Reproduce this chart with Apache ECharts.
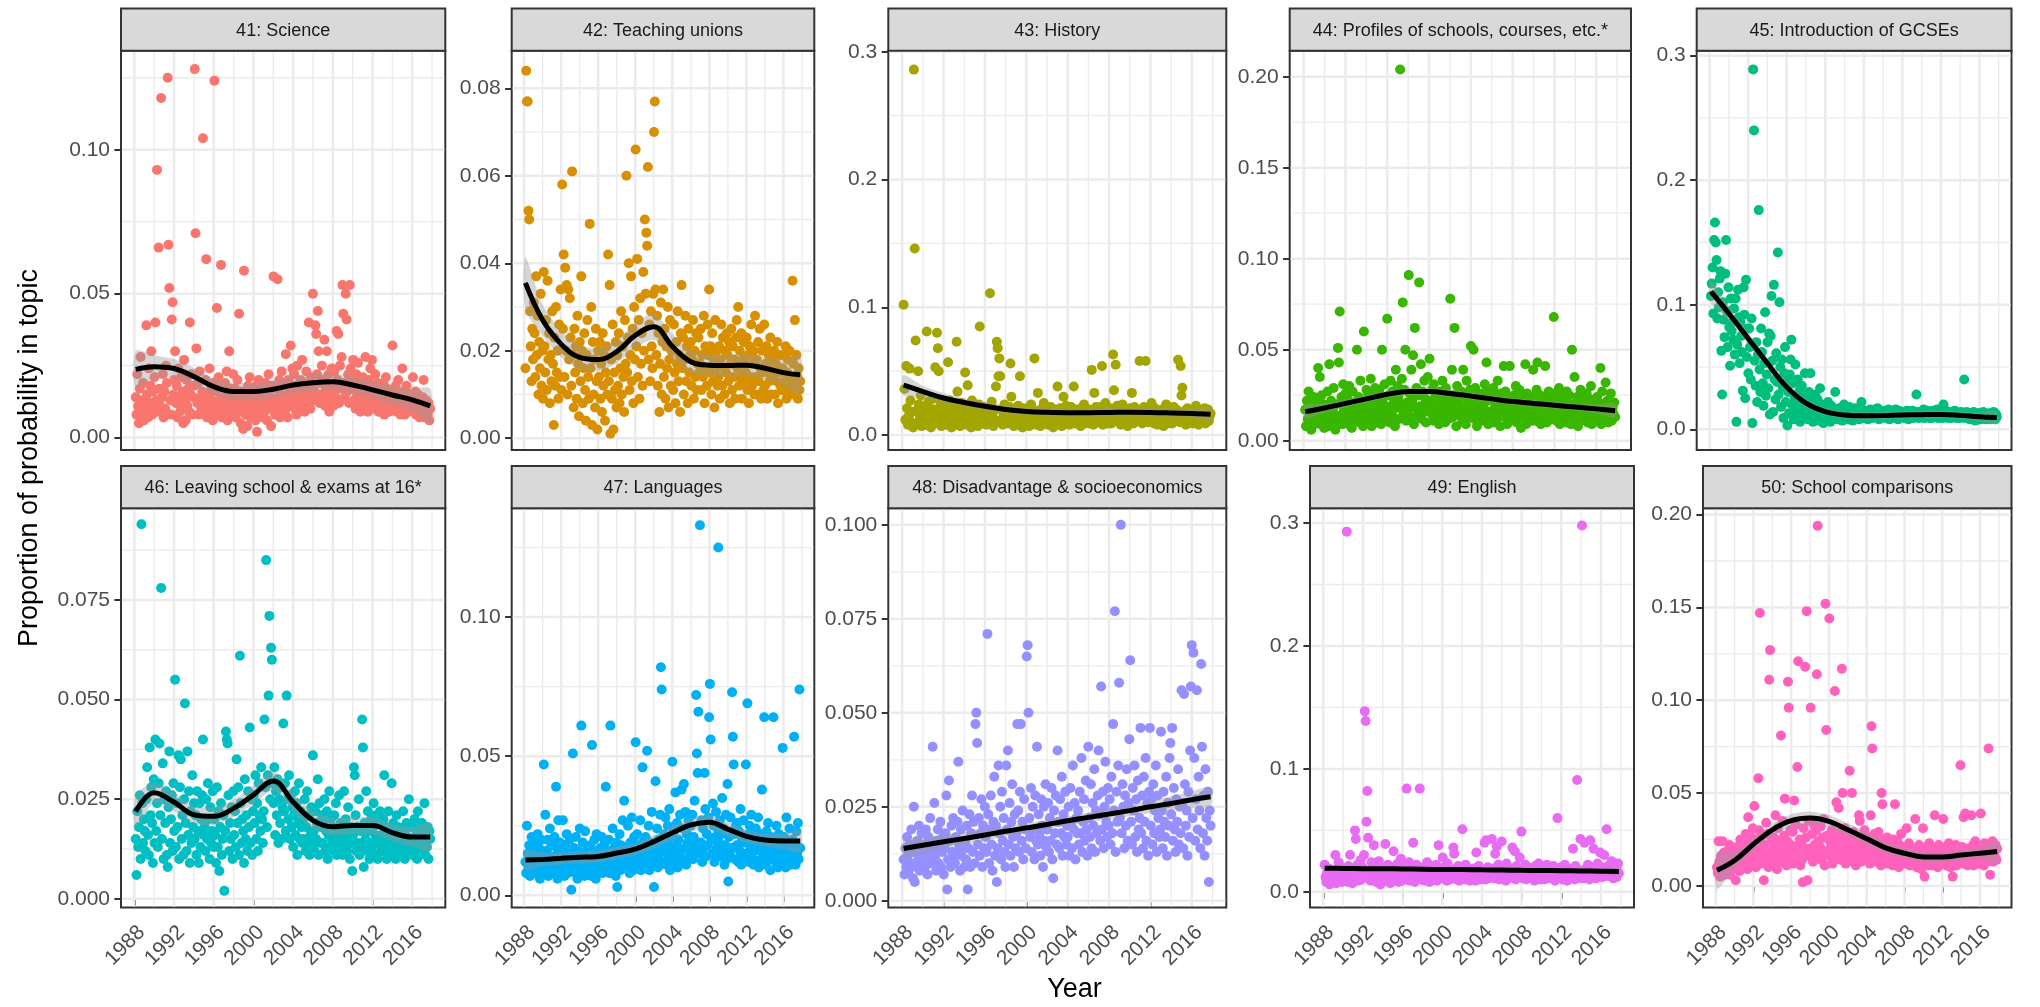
<!DOCTYPE html>
<html><head><meta charset="utf-8">
<script src="https://cdn.jsdelivr.net/npm/echarts@6/dist/echarts.min.js"></script>
<style>html,body{margin:0;padding:0;background:#fff}#c{width:2040px;height:1007px}</style>
</head><body><div id="c"></div>
<script>
// ---------------- DATA (monthly values, in units of 0.001 = per mille) ----------------
const MONTH_START = 1988.14, MONTH_END = 2017.81;
const TOPICS = ['41: Science','42: Teaching unions','43: History','44: Profiles of schools, courses, etc.*','45: Introduction of GCSEs',
  '46: Leaving school & exams at 16*','47: Languages','48: Disadvantage & socioeconomics','49: English','50: School comparisons'];
const COLORS = ['#F8766D','#D89000','#A3A500','#39B600','#00BF7D','#00BFC4','#00B0F6','#9590FF','#E76BF3','#FF62BC'];

const science = [
14,8,22,11,5,17,28,9,13,19,6,12, 10,39,15,7,24,12,18,30,8,16,11,21, 40,13,93,9,66,17,11,118,14,22,7,16,
10,25,19,125,67,52,13,8,41,47,15,20, 30,12,18,7,24,14,9,21,11,16,5,27, 13,6,20,11,17,9,40,15,22,8,14,18,
128,71,31,12,19,8,23,14,10,16,104,9, 12,20,62,7,15,11,24,9,17,13,6,19, 124,10,16,45,8,21,13,18,60,7,14,11,
9,19,12,23,6,15,30,10,17,8,13,22, 11,17,7,14,20,9,43,13,5,16,10,3, 58,12,8,15,4,18,11,21,7,13,16,9,
10,14,6,18,2,12,20,8,15,11,17,7, 13,9,19,11,6,16,22,10,14,4,18,12, 56,12,8,17,11,55,14,20,7,15,23,10,
12,18,9,29,14,7,20,11,16,32,13,24, 15,22,10,18,8,25,13,17,11,20,14,27, 12,19,9,16,23,11,14,40,18,10,21,15,
50,17,13,39,36,22,44,30,12,19,15,25, 14,20,34,11,17,30,13,22,9,18,15,24, 16,11,23,18,14,37,20,36,12,25,17,28,
53,43,19,14,50,41,16,22,12,53,24,18, 20,27,13,17,10,22,15,26,12,19,9,16, 14,21,11,18,28,13,16,9,20,12,24,15,
27,13,18,10,22,15,12,19,9,17,14,11, 16,12,19,8,14,21,11,17,13,9,15,12, 12,32,16,10,14,18,9,13,20,11,15,8,
13,24,10,16,8,12,18,11,14,9,15,10, 11,14,21,9,13,16,8,12,15,10,7,13, 9,12,14,20,7,11,13,10,8,12,6,10];

const teachingUnions = [
16,84,77,77,52,50,29,21,13,25,18,31, 24,14,37,19,28,10,22,16,33,12,20,9, 38,21,15,27,11,36,18,24,8,19,13,29,
17,3,23,12,30,15,20,9,26,14,34,11, 58,25,42,14,39,20,35,10,34,18,32,23, 12,61,19,7,25,15,21,9,28,17,5,22,
13,37,20,8,16,24,11,4,19,27,14,9, 49,16,30,3,22,10,18,7,25,13,2,20, 14,22,9,17,6,24,12,19,4,15,21,10,
42,13,35,1,18,9,26,2,15,11,22,7, 19,12,24,8,16,29,10,21,14,6,27,17, 60,15,23,40,11,19,37,13,25,8,30,18,
66,21,41,14,27,9,32,17,24,12,38,20, 50,33,47,44,62,18,26,13,29,21,16,33, 70,77,34,19,28,12,24,6,17,31,10,22,
34,14,25,9,21,16,30,7,18,27,12,20, 20,11,26,15,8,22,17,29,13,19,6,24, 35,16,23,10,18,28,13,21,8,25,15,19,
22,12,18,27,9,20,14,24,11,17,23,15, 17,25,11,19,14,28,8,21,16,12,26,19, 34,15,21,10,24,13,18,7,27,16,20,12,
14,21,9,18,26,12,23,16,10,20,15,24, 19,13,22,8,17,25,11,21,14,18,9,23, 27,16,30,12,20,14,24,9,18,22,13,17,
15,23,11,19,8,21,14,26,12,17,20,10, 28,14,18,10,22,13,25,16,9,20,15,11, 26,12,17,21,9,15,19,13,23,10,16,18,
14,20,10,17,13,22,8,16,19,12,15,11, 16,11,19,13,21,9,15,18,12,20,14,10, 13,36,17,10,27,12,19,14,9,16,11,13];

const history = [
102,36,12,54,21,8,15,52,27,10,18,6, 286,146,74,19,9,50,24,13,31,7,16,11, 14,22,8,81,17,26,11,19,6,28,13,20,
9,53,18,80,68,50,12,25,7,16,21,10, 15,24,8,19,57,11,27,14,6,20,12,17, 10,22,73,34,13,18,7,25,15,9,21,12,
49,16,8,39,23,12,19,6,27,14,10,18, 11,20,14,7,24,85,13,17,9,22,12,16, 15,8,21,12,18,111,10,26,14,7,19,11,
38,73,68,46,60,46,12,20,8,16,24,10, 13,19,9,15,22,56,30,11,17,7,14,20, 10,16,23,8,46,12,18,6,21,14,9,15,
17,11,20,7,14,24,9,16,12,60,19,8, 13,33,10,18,7,15,21,11,25,9,16,12, 14,8,19,12,22,10,17,6,15,20,11,13,
38,16,9,21,13,7,18,30,11,15,23,10, 12,19,8,16,22,11,14,38,9,17,13,20, 15,10,18,7,21,13,16,24,9,12,19,11,
14,20,9,17,51,12,8,33,15,22,11,18, 10,16,22,13,54,8,19,11,25,14,17,9, 16,12,21,9,18,63,35,14,55,11,23,13,
11,18,8,15,24,12,20,10,16,13,7,19, 14,21,10,33,17,9,22,12,15,19,11,16, 58,13,19,9,16,22,11,58,14,20,10,17,
12,18,25,11,15,9,21,13,17,8,19,14, 16,10,20,13,7,18,12,24,15,9,22,11, 13,19,9,16,22,11,14,20,12,59,17,10,
54,31,37,15,11,19,8,16,21,13,10,18, 12,17,9,20,14,11,23,13,16,8,19,15, 14,10,18,12,21,9,16,13,20,11,15,17];

const profiles = [
17,8,22,12,27,10,15,6,19,13,24,9, 14,21,11,40,18,35,9,25,13,20,7,16, 12,19,27,8,42,15,22,10,17,29,13,6,
20,11,51,43,71,14,24,9,31,17,12,26, 16,23,9,30,13,19,7,27,15,21,11,18, 50,14,24,10,33,17,22,8,60,19,13,28,
15,26,11,20,34,8,18,24,13,29,16,10, 21,12,28,17,9,50,23,14,31,19,11,67, 16,25,10,33,19,27,13,22,8,39,18,30,
24,12,204,20,34,76,15,28,50,11,21,17, 91,26,13,39,22,47,9,62,18,29,14,25, 87,19,42,12,27,16,33,23,10,21,35,17,
45,22,15,28,11,31,19,26,13,24,18,9, 20,27,14,33,17,23,10,29,15,21,12,25, 78,18,39,13,25,62,21,8,30,16,23,14,
19,27,11,39,15,24,9,33,18,22,13,28, 52,16,23,50,12,29,19,8,25,14,21,17, 18,26,11,20,31,15,43,22,9,27,16,13,
23,14,29,10,19,25,12,33,17,21,8,26, 15,22,41,13,27,18,9,24,16,41,11,20, 19,12,25,16,30,10,22,14,28,18,7,23,
13,21,17,42,9,26,15,20,12,24,18,11, 39,16,23,11,28,43,14,19,25,9,21,17, 20,13,41,24,10,18,27,15,22,12,19,26,
68,17,23,11,20,14,29,9,24,16,21,13, 15,22,10,27,18,12,25,16,9,50,20,14, 35,19,13,24,8,21,16,28,11,18,23,15,
12,20,26,10,17,23,14,30,9,19,15,22, 18,13,24,11,21,16,40,9,27,14,20,12, 32,17,22,10,19,14,26,11,18,15,21,13];

const gcses = [
107,117,130,93,152,166,150,136,89,110,98,121, 127,63,28,102,88,74,125,152,95,66,114,82, 51,105,79,86,72,97,60,105,6,68,112,90,
53,86,75,62,31,114,92,25,120,58,81,45, 81,66,40,89,5,289,240,55,35,70,22,60, 176,48,30,81,62,37,19,53,94,27,44,70,
33,77,12,75,107,55,14,116,40,24,61,38, 142,28,102,50,18,56,34,9,45,66,22,38, 3,30,13,44,56,72,20,37,8,26,52,15,
24,40,11,31,6,19,35,14,27,9,45,17, 13,22,8,30,16,45,10,25,6,19,12,28, 18,7,24,11,15,33,9,20,13,5,17,10,
12,16,8,22,10,14,6,19,11,15,9,13, 30,10,14,8,12,17,11,9,15,7,13,20, 11,14,9,16,12,8,18,10,13,15,7,12,
10,13,17,9,12,15,8,11,14,22,10,13, 12,9,15,11,14,8,13,10,16,12,9,14, 11,14,10,13,9,17,12,8,15,11,13,10,
13,10,15,12,9,14,11,16,8,13,12,10, 9,14,11,13,16,10,12,8,15,11,14,12, 12,10,14,9,13,11,15,12,8,14,10,13,
11,15,9,13,12,10,28,14,11,9,13,12, 14,10,12,16,9,13,11,15,10,12,14,9, 12,9,15,11,13,10,14,12,16,9,11,13,
10,14,12,9,20,13,11,15,10,12,9,14, 13,11,9,14,12,10,15,11,13,9,12,10, 9,12,14,10,13,11,40,9,12,14,10,11,
11,8,13,10,12,9,14,11,7,12,10,13, 10,12,8,13,9,11,14,10,12,8,11,9, 9,11,13,8,12,10,9,14,11,8,12,10];

const leavingSchool = [
15,6,22,13,18,26,10,94,24,14,20,17, 12,25,33,16,11,38,21,28,19,9,30,14, 40,17,24,13,29,39,21,78,15,34,10,25,
19,27,11,8,23,37,14,20,26,12,29,17, 55,13,24,18,36,10,28,35,15,21,11,25, 49,19,12,37,16,27,9,22,14,31,18,24,
15,21,11,27,17,9,24,13,20,26,40,16, 18,12,25,15,29,20,10,23,14,17,27,13, 20,16,9,28,13,22,7,18,24,11,15,21,
2,17,42,40,39,26,12,19,15,23,10,27, 16,22,13,35,19,28,11,61,24,14,20,17, 9,30,15,21,12,27,18,43,14,25,11,22,
26,19,31,15,24,12,29,21,17,33,20,14, 22,45,28,85,18,31,51,71,25,63,60,29, 24,33,16,27,21,30,14,25,19,28,15,23,
44,22,29,17,51,25,20,31,15,26,18,23, 13,21,27,16,24,11,19,29,15,22,18,14, 20,15,25,12,18,27,14,21,11,16,23,13,
36,17,12,22,15,19,30,11,24,14,18,21, 14,19,25,12,17,22,10,16,27,13,20,15, 18,12,21,15,24,11,17,14,26,13,19,16,
11,17,27,13,20,15,12,23,16,10,18,14, 7,16,33,31,21,12,18,14,25,11,17,13, 45,38,8,19,15,27,12,22,17,10,14,20,
13,18,24,11,16,21,14,10,19,15,22,12, 16,12,20,31,14,18,10,15,22,13,17,11, 29,14,19,12,16,10,21,13,18,15,11,17,
12,17,22,14,10,16,19,11,15,25,13,18, 15,11,18,13,20,12,16,10,22,14,17,12, 14,19,12,16,24,11,15,13,18,10,17,15];

const languages = [
12,8,25,15,10,18,7,14,21,9,13,16, 11,19,8,14,22,10,17,6,13,20,9,15, 47,12,29,9,16,20,7,13,24,11,18,10,
14,8,21,11,39,17,6,27,12,19,9,15, 10,27,13,7,18,11,22,8,15,12,20,9, 2,14,51,10,17,8,21,13,6,16,11,24,
15,61,9,19,12,7,23,14,10,17,8,13, 11,18,7,54,13,9,20,15,6,22,12,16, 14,9,17,12,21,8,15,11,19,39,10,16,
13,20,8,61,15,11,24,9,17,14,7,19, 3,16,12,22,9,18,13,27,10,34,15,11, 17,11,25,14,8,19,12,28,16,9,21,13,
55,15,22,10,18,13,27,9,16,46,12,20, 14,21,11,52,17,25,9,19,13,30,16,12, 3,18,41,13,24,10,20,15,29,82,74,17,
12,22,16,28,11,19,25,14,31,9,17,21, 48,15,23,12,37,18,26,10,20,14,29,16, 38,13,24,40,17,30,11,22,19,27,14,20,
25,16,29,13,21,34,18,72,51,44,66,15, 133,19,27,12,24,17,44,31,14,22,18,28, 64,76,56,20,15,33,25,12,21,30,17,24,
125,19,27,14,22,35,16,24,11,18,29,13, 40,5,21,15,28,17,73,57,47,22,13,25, 18,26,12,23,16,31,11,20,14,27,19,13,
47,15,69,22,12,25,17,29,14,19,11,21, 16,24,12,19,28,10,17,22,13,38,15,20, 64,18,11,23,15,26,13,19,9,21,14,17,
64,14,20,12,25,16,10,22,15,18,11,19, 53,13,21,17,10,28,15,19,12,24,16,11, 14,20,12,57,18,11,23,15,26,13,74,17];

const disadvantage = [
11,7,14,9,17,12,8,15,10,19,13,6, 25,5,13,9,16,11,20,8,14,18,10,12, 15,9,19,12,7,17,13,22,10,14,41,11,
26,12,8,16,19,10,14,21,9,13,17,7, 14,18,28,3,11,32,16,9,20,13,22,12, 10,17,13,21,37,15,8,19,12,24,14,9,
16,11,20,3,14,23,9,18,28,13,21,10, 47,50,42,15,22,12,18,27,9,20,14,25, 17,13,71,23,10,19,28,15,8,21,33,12,
20,5,14,36,18,25,11,29,16,22,13,9, 36,19,40,15,26,12,21,31,17,9,23,14, 18,47,24,13,29,47,16,21,11,27,19,14,
65,68,50,22,17,30,13,25,19,11,28,16, 41,15,23,18,12,27,20,9,25,16,31,14, 19,26,13,22,16,30,11,6,24,18,28,15,
40,21,14,27,18,33,12,23,17,29,15,20, 17,25,12,30,20,14,36,19,26,11,22,18, 24,15,29,18,38,13,21,27,16,32,19,12,
41,22,17,31,14,26,20,35,13,24,18,28, 40,23,16,57,19,29,14,25,37,21,17,30, 20,27,15,33,18,47,24,77,13,29,21,36,
58,22,100,18,31,25,14,28,20,35,16,26, 43,64,21,15,30,24,36,17,27,13,32,19, 22,46,18,28,14,33,21,38,16,26,12,29,
46,20,27,15,31,18,24,36,13,28,22,17, 19,45,24,14,29,21,17,33,12,26,20,38, 42,23,46,16,30,19,13,27,21,35,15,25,
18,56,26,14,55,31,20,24,12,29,17,40, 57,68,22,66,38,16,27,56,19,33,24,14, 63,41,18,28,12,35,22,16,29,5,24,20];

const english = [
22,12,8,16,10,19,6,14,11,17,9,13, 15,30,7,18,11,24,9,13,20,8,16,12, 10,17,13,293,8,21,14,30,11,19,7,15,
16,50,43,12,22,9,18,14,26,10,20,13, 30,147,139,57,82,44,11,17,9,24,14,19, 38,13,21,8,16,11,25,14,6,19,10,17,
12,18,39,9,15,22,11,17,7,14,20,10, 33,14,10,19,13,23,8,16,12,27,9,15, 18,11,15,21,84,10,14,24,9,17,12,20,
40,13,8,18,22,11,16,14,84,10,19,12, 15,20,9,13,17,24,11,16,8,21,14,10, 12,18,14,10,22,9,16,38,13,19,11,15,
28,14,20,11,17,9,23,13,15,10,18,12, 16,36,31,12,19,10,14,21,9,17,13,11, 51,13,18,10,22,15,11,19,14,9,16,12,
15,11,19,14,9,32,17,12,21,10,16,13, 18,12,16,40,10,42,14,20,11,17,13,15, 43,14,19,11,31,16,37,12,22,10,18,13,
41,17,12,20,14,9,23,16,11,19,13,15, 12,36,18,14,33,10,21,16,12,19,28,13, 49,15,11,18,13,22,10,16,20,12,17,14,
14,19,12,16,9,21,13,18,11,23,15,10, 17,12,20,14,10,18,13,22,11,16,19,12, 13,18,11,21,15,9,17,14,60,12,19,16,
20,14,10,17,13,22,12,16,9,18,14,11, 15,19,12,35,16,10,21,14,91,18,11,17, 43,13,298,16,11,40,14,19,12,22,15,10,
42,17,12,20,35,14,18,11,16,23,13,19, 32,15,20,12,18,30,14,17,51,13,21,16, 18,13,25,16,11,21,14,19,12,17,23,15];

const schoolComparisons = [
10,7,24,13,5,16,9,24,12,18,6,14, 15,8,19,11,22,6,13,17,9,20,12,16, 3,14,21,10,17,8,25,13,19,11,23,15,
12,28,18,9,37,15,22,11,26,14,31,17, 43,19,10,25,14,58,30,147,20,12,27,16, 3,22,13,34,17,28,10,111,127,15,24,19,
18,26,12,38,21,9,31,16,24,13,81,20, 35,14,27,47,19,11,24,110,96,16,30,22, 17,29,12,46,21,33,15,64,121,19,25,11,
23,14,2,31,18,118,26,148,3,20,35,16, 96,19,28,13,33,22,17,30,114,194,24,15, 21,32,14,26,18,36,11,152,84,27,19,25,
144,16,23,30,12,27,18,105,21,45,15,25, 42,20,29,14,117,50,23,17,31,12,26,19, 18,27,62,15,22,50,13,29,19,25,11,21,
16,24,38,35,19,13,27,21,15,30,17,23, 22,14,26,18,12,38,86,74,20,15,28,17, 13,24,19,29,16,22,11,50,44,18,25,14,
20,15,26,12,18,23,14,21,17,11,25,16, 44,13,19,24,15,10,22,17,28,12,18,14, 16,21,12,31,17,14,23,11,19,15,20,13,
12,18,36,14,10,20,15,22,13,17,9,19, 31,14,5,18,12,21,16,11,23,15,19,13, 11,17,14,38,20,12,16,10,22,14,18,15,
16,12,36,19,14,21,11,17,13,23,15,10, 14,20,5,16,12,18,22,11,15,19,13,17, 65,15,21,12,37,17,39,14,20,11,18,16,
13,19,38,15,22,11,17,24,14,20,12,18, 17,12,39,14,20,16,11,23,15,19,13,21, 74,18,6,21,15,24,13,19,16,22,14,20];

// smoothed trend (per mille) and half-width of its confidence band, read at these years
const TREND_YEARS = [1988.14,1990,1992,1994,1996,1998,2000,2002,2004,2006,2008,2010,2012,2014,2016,2017.81];
const trendScience = [23.7,24.6,24,21.2,17.7,16,16,16.8,18.3,19.1,19.4,18.3,16.6,14.8,13.1,11];
const bandScience  = [6.5,4,3.3,3,3,3,3,3,3,3,3,3,3,3.3,4,6];
const trendUnions  = [35.5,27,21.5,18.5,18,19.8,23.5,25.5,21,17.5,16.7,16.6,16.7,16,15,14.5];
const bandUnions   = [6,3.5,3,2.7,2.7,2.7,2.8,3,2.8,2.6,2.5,2.5,2.5,2.6,3,4.5];
const trendHistory = [39,34,29,25.5,22.5,20,18.5,17.8,17.5,17.5,17.7,17.8,17.7,17.3,16.8,16.2];
const bandHistory  = [8,4.5,3.8,3.5,3.5,3.3,3.2,3.2,3.2,3.2,3.2,3.2,3.2,3.3,3.8,5];
const trendProfiles= [16,18,20.5,23,25.5,27,27,26,24.5,23,21.5,20.5,19.5,18.5,17.5,16.5];
const bandProfiles = [3.8,2.5,2.2,2,2,2,2,2,2,2,2,2,2,2,2.5,3.8];
const trendGcses   = [110.5,93,73,53,34,21,14.2,11.5,10.8,11,11.5,11.8,12,11.2,10,9.4];
const bandGcses    = [9,6,5,4.5,4,3.5,3,3,3,3,3,3,3,3,3.5,5];
const trendLeaving = [21.9,26.6,24.3,21.1,20.7,22.7,26.1,29.6,24.3,19.7,18.1,18.4,18.4,16.6,15.5,15.5];
const bandLeaving  = [4,2.5,2.3,2.2,2.2,2.2,2.3,2.5,2.3,2.2,2.1,2.1,2.1,2.2,2.5,3.5];
const trendLanguages=[12.7,12.9,13.3,13.7,14,15.2,16.6,19.3,22.5,25.3,26.3,23.8,21.2,19.9,19.5,19.5];
const bandLanguages= [3.5,2.5,2.2,2.2,2.2,2.2,2.2,2.4,2.5,2.5,2.5,2.5,2.4,2.4,2.8,4];
const trendDisadv  = [13.9,14.8,15.7,16.6,17.5,18.5,19.4,20.3,21.3,22.2,23.1,24,25,25.9,26.9,27.7];
const bandDisadv   = [2.5,2.2,1.9,1.7,1.5,1.4,1.3,1.2,1.2,1.3,1.4,1.5,1.7,1.9,2.2,2.5];
const trendEnglish = [19.3,19.1,18.9,18.8,18.6,18.4,18.2,18.1,17.9,17.7,17.5,17.4,17.2,17,16.8,16.6];
const bandEnglish  = [2.5,2.2,2,1.8,1.6,1.5,1.4,1.3,1.3,1.4,1.5,1.6,1.8,2,2.2,2.5];
const trendCompare = [8.4,13.7,22.4,30.2,35.1,36.5,34.7,30.2,25.4,20.5,17.6,15.6,15.6,16.6,17.6,18.5];
const bandCompare  = [10,5,3.5,3.5,3.5,3.5,3.5,3.5,3.3,3,3,3,3,3,3.5,6];

// axes
const X_TICKS = [1988,1992,1996,2000,2004,2008,2012,2016];
const X_MINOR = [1990,1994,1998,2002,2006,2010,2014,2018];
const Y_LIMITS = [[-0.0043,0.1344],[-0.0027,0.0886],[-0.0117,0.3008],[-0.0051,0.2143],[-0.0166,0.304],
                  [-0.0022,0.098],[-0.0044,0.1391],[-0.0018,0.1044],[-0.0128,0.312],[-0.0117,0.2034]];
const Y_TICKS = [[0,0.05,0.1],[0,0.02,0.04,0.06,0.08],[0,0.1,0.2,0.3],[0,0.05,0.1,0.15,0.2],[0,0.1,0.2,0.3],
                 [0,0.025,0.05,0.075],[0,0.05,0.1],[0,0.025,0.05,0.075,0.1],[0,0.1,0.2,0.3],[0,0.05,0.1,0.15,0.2]];
const Y_MINOR = [[0.025,0.075,0.125],[0.01,0.03,0.05,0.07],[0.05,0.15,0.25],[0.025,0.075,0.125,0.175],[0.05,0.15,0.25],
                 [0.0125,0.0375,0.0625,0.0875],[0.025,0.075,0.125],[0.0125,0.0375,0.0625,0.0875],[0.05,0.15,0.25],[0.025,0.075,0.125,0.175]];
const Y_DEC = [2,2,1,2,1,3,2,3,1,2];

// ---------------- BUILD ----------------
const VALUES = [science,teachingUnions,history,profiles,gcses,leavingSchool,languages,disadvantage,english,schoolComparisons];
const TRENDS = [trendScience,trendUnions,trendHistory,trendProfiles,trendGcses,trendLeaving,trendLanguages,trendDisadv,trendEnglish,trendCompare];
const BANDS  = [bandScience,bandUnions,bandHistory,bandProfiles,bandGcses,bandLeaving,bandLanguages,bandDisadv,bandEnglish,bandCompare];

const FONT = "'Liberation Sans', Arial, Helvetica, sans-serif";
const X_MIN = 1986.66, X_MAX = 2019.33;
// panel rectangles [left, right] per facet (each facet sized by its own axis labels)
const PANEL_X = [[121,445.3],[511.7,814.3],[888.3,1226.3],[1289.7,1631],[1696.7,2011.5],
                 [121,445.3],[511.7,814.3],[888.3,1226.3],[1310,1634],[1703,2011.5]];
const ROW_TOP = [50.7, 508.3];
const PANEL_H = 399.3, STRIP_H = 42.2;

const grids=[], xAxes=[], yAxes=[], series=[], graphics=[];
for (let i=0;i<10;i++){
  const row=Math.floor(i/5);
  const left=PANEL_X[i][0], width=PANEL_X[i][1]-PANEL_X[i][0], top=ROW_TOP[row];
  grids.push({left, top, width, height:PANEL_H, show:true, backgroundColor:'#ffffff', borderColor:'#333333', borderWidth:2, containLabel:false});
  xAxes.push({gridIndex:i, type:'value', min:X_MIN, max:X_MAX, axisLine:{show:false}, splitLine:{show:false},
    axisTick:{show:row===1, customValues:X_TICKS, length:6.6, lineStyle:{color:'#333333', width:2}},
    axisLabel:{show:row===1, customValues:X_TICKS, formatter:(v)=>String(Math.round(v)), rotate:45, align:'right', verticalAlign:'top',
      margin:14, fontSize:21, color:'#4D4D4D', fontFamily:FONT}});
  yAxes.push({gridIndex:i, type:'value', min:Y_LIMITS[i][0], max:Y_LIMITS[i][1], axisLine:{show:false}, splitLine:{show:false},
    axisTick:{show:true, customValues:Y_TICKS[i], length:6.6, lineStyle:{color:'#333333', width:2}},
    axisLabel:{customValues:Y_TICKS[i], formatter:(v)=>Number(v).toFixed(Y_DEC[i]), margin:11, fontSize:21, color:'#4D4D4D', fontFamily:FONT}});

  // panel grid lines
  series.push({type:'custom', xAxisIndex:i, yAxisIndex:i, silent:true, z:1, data:[[2000,0]],
    renderItem:(p,api)=>{
      const ch=[]; const [y0,y1]=Y_LIMITS[i];
      const v=(x,w)=>{const a=api.coord([x,y0]), b=api.coord([x,y1]);
        ch.push({type:'line', shape:{x1:a[0],y1:a[1]-1,x2:b[0],y2:b[1]+1}, style:{stroke:'#EBEBEB', lineWidth:w}});};
      const h=(y,w)=>{const a=api.coord([X_MIN,y]), b=api.coord([X_MAX,y]);
        ch.push({type:'line', shape:{x1:a[0]+1,y1:a[1],x2:b[0]-1,y2:b[1]}, style:{stroke:'#EBEBEB', lineWidth:w}});};
      X_MINOR.forEach(x=>v(x,1.3)); Y_MINOR[i].forEach(y=>h(y,1.3));
      X_TICKS.forEach(x=>v(x,2.5)); Y_TICKS[i].forEach(y=>h(y,2.5));
      return {type:'group', children:ch};
    }});
  // points
  const vals=VALUES[i], n=vals.length;
  series.push({type:'scatter', xAxisIndex:i, yAxisIndex:i, z:2, symbolSize:10, silent:true,
    itemStyle:{color:COLORS[i], opacity:1},
    data:vals.map((vv,k)=>[MONTH_START+k*(MONTH_END-MONTH_START)/(n-1), vv/1000])});
  // confidence band
  const t=TRENDS[i], b=BANDS[i];
  series.push({type:'custom', xAxisIndex:i, yAxisIndex:i, silent:true, z:3, data:[[2000,0]],
    renderItem:(p,api)=>{
      const up=TREND_YEARS.map((x,k)=>api.coord([x,(t[k]+b[k])/1000]));
      const lo=TREND_YEARS.map((x,k)=>api.coord([x,(t[k]-b[k])/1000])).reverse();
      return {type:'polygon', shape:{points:up.concat(lo), smooth:0.25}, style:{fill:'rgba(153,153,153,0.4)'}};
    }});
  // trend
  series.push({type:'line', xAxisIndex:i, yAxisIndex:i, z:4, silent:true, showSymbol:false, smooth:0.4,
    lineStyle:{color:'#000000', width:5}, data:TREND_YEARS.map((x,k)=>[x,t[k]/1000])});

  // strip
  graphics.push({type:'rect', z:10, shape:{x:left, y:top-STRIP_H, width, height:STRIP_H},
    style:{fill:'#D9D9D9', stroke:'#333333', lineWidth:2}});
  graphics.push({type:'text', z:11, x:left+width/2, y:top-STRIP_H/2+1,
    style:{text:TOPICS[i], fontSize:18, fill:'#1A1A1A', align:'center', verticalAlign:'middle', fontFamily:FONT}});
}
graphics.push({type:'text', x:1074.5, y:990, style:{text:'Year', fontSize:27, fill:'#000000', align:'center', verticalAlign:'middle', fontFamily:FONT}});
graphics.push({type:'text', x:30, y:458, rotation:Math.PI/2, style:{text:'Proportion of probability in topic', fontSize:27, fill:'#000000', align:'center', verticalAlign:'middle', fontFamily:FONT}});

const chart=echarts.init(document.getElementById('c'), null, {renderer:'canvas'});
chart.setOption({animation:false, backgroundColor:'#ffffff', grid:grids, xAxis:xAxes, yAxis:yAxes, series, graphic:graphics});
</script></body></html>
